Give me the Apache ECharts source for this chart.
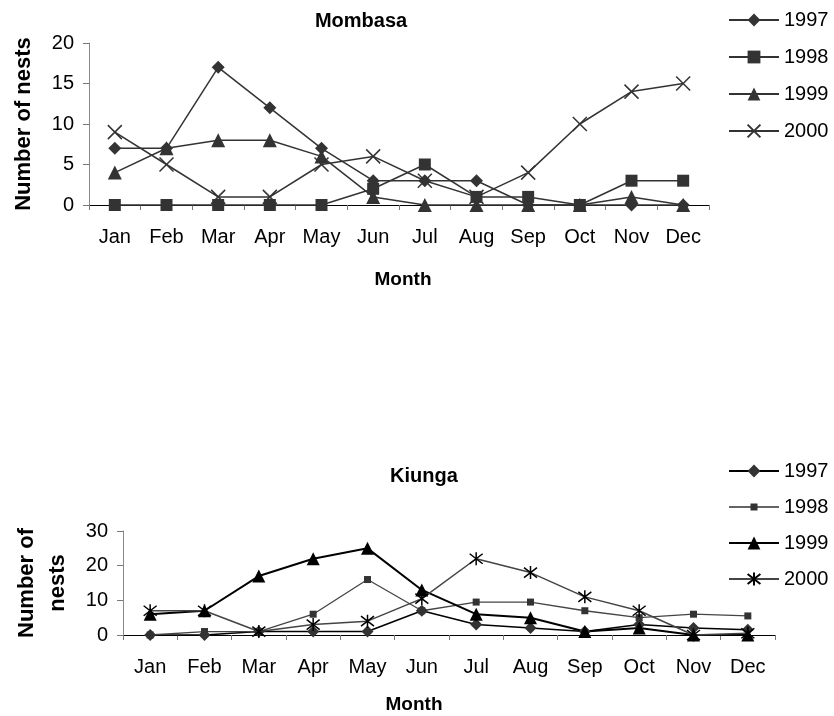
<!DOCTYPE html>
<html>
<head>
<meta charset="utf-8">
<script src="https://cdn.jsdelivr.net/npm/echarts@6/dist/echarts.min.js"></script>
<style>
html,body{margin:0;padding:0;background:#fff;}
#c{width:834px;height:716px;}
</style>
</head>
<body>
<div id="c"></div>
<script>
var months = ['Jan','Feb','Mar','Apr','May','Jun','Jul','Aug','Sep','Oct','Nov','Dec'];
var years = ['1997','1998','1999','2000'];
var mombasaTicks = [0,5,10,15,20];
var kiungaTicks = [0,10,20,30];

var mombasa1997 = [7,7,17,12,7,3,3,3,0,0,0,0];
var mombasa1998 = [0,0,0,0,0,2,5,1,1,0,3,3];
var mombasa1999 = [4,7,8,8,6,1,0,0,0,0,1,0];
var mombasa2000 = [9,5,1,1,5,6,3,1,4,10,14,15];

var kiunga1997 = [0,0,1,1,1,7,3,2,1,3,2,1.5];
var kiunga1998 = [0,1,1,6,16,7,9.5,9.5,7,5,6,5.5];
var kiunga1999 = [6,7,17,22,25,13,6,5,1,2,0,0];
var kiunga2000 = [7,7,1,3,4,10.5,22,18,11,7,0,0.5];

var FONT = 'Liberation Sans, Arial, sans-serif';
var XPATH = 'path://M0,0L10,10M10,0L0,10';
var ASTER = 'path://M0,0L10,10M10,0L0,10M5,-1.5L5,11.5';
var SMALLSQ_LEGEND = 'path://M0,0L0,0M50,16L50,16M0,7.2L50,7.2L50,8.8L0,8.8ZM21.5,4.5L28.5,4.5L28.5,11.5L21.5,11.5Z';
var KP = 'K';

function ser(name, data, gi, lineColor, lineWidth, symbol, symSize, symColor, stroke) {
  var s = {
    name: name, type: 'line', data: data,
    xAxisIndex: gi, yAxisIndex: gi,
    symbol: symbol, symbolSize: symSize,
    showAllSymbol: true, clip: false, animation: false,
    lineStyle: {color: lineColor, width: lineWidth},
    itemStyle: {color: symColor, borderColor: symColor, borderWidth: 0, opacity: 1},
    emphasis: {disabled: true}
  };
  if (stroke) {
    s.itemStyle = {color: 'none', borderColor: symColor, borderWidth: stroke, opacity: 1};
  }
  return s;
}

var chart = echarts.init(document.getElementById('c'));
var axisLabelStyle = {color: '#000', fontSize: 20, fontFamily: FONT};
var legendText = {fontSize: 20, fontFamily: FONT, color: '#000', lineHeight: 22};
chart.setOption({
  backgroundColor: '#fff',
  animation: false,
  title: [
    {text: 'Mombasa', left: 356, top: 16, textAlign: 'center', textVerticalAlign: 'middle',
     textStyle: {fontSize: 20, fontWeight: 'bold', fontFamily: FONT, color: '#000'}},
    {text: 'Kiunga', left: 419, top: 471, textAlign: 'center', textVerticalAlign: 'middle',
     textStyle: {fontSize: 20, fontWeight: 'bold', fontFamily: FONT, color: '#000'}}
  ],
  legend: [
    {orient: 'vertical', left: 723, top: 4, itemWidth: 50, itemHeight: 16, itemGap: 15,
     data: years.slice(),
     textStyle: legendText, selectedMode: false},
    {orient: 'vertical', left: 723, top: 455, itemWidth: 50, itemHeight: 16, itemGap: 14,
     data: years.map(function(y, i){
       var d = {name: KP + y};
       if (i === 1) { d.icon = SMALLSQ_LEGEND; d.itemStyle = {color: '#333'}; }
       return d;
     }),
     formatter: function(n){ return n.replace(KP, ''); },
     textStyle: legendText, selectedMode: false}
  ],
  grid: [
    {left: 89, top: 43, width: 620, height: 162, outerBoundsMode: 'none', containLabel: false},
    {left: 123, top: 531, width: 652, height: 104, outerBoundsMode: 'none', containLabel: false}
  ],
  xAxis: [0,1].map(function(i){
    return {
      type: 'category', gridIndex: i, data: months, boundaryGap: true,
      name: 'Month', nameLocation: 'middle', nameGap: i === 0 ? 65 : 60,
      nameTextStyle: {fontSize: 19, fontWeight: 'bold', fontFamily: FONT, color: '#000',
                      padding: i === 0 ? [0, 0, 0, 8] : [0, 70, 0, 0]},
      axisLine: {lineStyle: {color: '#000', width: 1}},
      axisTick: {show: true, length: 5, lineStyle: {color: '#777'}},
      axisLabel: Object.assign({margin: 22}, axisLabelStyle),
      splitLine: {show: false}
    };
  }),
  yAxis: [
    {type: 'value', gridIndex: 0, min: 0, max: 20, interval: 5,
     name: 'Number of nests', nameLocation: 'middle', nameGap: 54, nameRotate: 90,
     nameTextStyle: {fontSize: 22, fontWeight: 'bold', fontFamily: FONT, color: '#000'},
     axisLine: {show: true, lineStyle: {color: '#888', width: 1}},
     axisTick: {show: true, length: 6, lineStyle: {color: '#777'}},
     axisLabel: Object.assign({margin: 15}, axisLabelStyle),
     splitLine: {show: false}},
    {type: 'value', gridIndex: 1, min: 0, max: 30, interval: 10,
     name: 'Number of\nnests', nameLocation: 'middle', nameGap: 50, nameRotate: 90,
     nameTextStyle: {fontSize: 22, fontWeight: 'bold', fontFamily: FONT, color: '#000', lineHeight: 31},
     axisLine: {show: true, lineStyle: {color: '#888', width: 1}},
     axisTick: {show: true, length: 6, lineStyle: {color: '#777'}},
     axisLabel: Object.assign({margin: 15}, axisLabelStyle),
     splitLine: {show: false}}
  ],
  series: [
    ser('1997', mombasa1997, 0, '#333', 1.5, 'diamond', 13, '#333'),
    ser('1998', mombasa1998, 0, '#333', 1.5, 'rect', 12, '#333'),
    ser('1999', mombasa1999, 0, '#333', 1.5, 'triangle', 14, '#333'),
    ser('2000', mombasa2000, 0, '#333', 1.5, XPATH, 14, '#333', 1.5),
    ser(KP + '1997', kiunga1997, 1, '#000', 1.5, 'diamond', 12, '#333'),
    ser(KP + '1998', kiunga1998, 1, '#444', 1.3, 'rect', 7, '#333'),
    ser(KP + '1999', kiunga1999, 1, '#000', 2, 'triangle', 13, '#000'),
    ser(KP + '2000', kiunga2000, 1, '#444', 1.5, ASTER, 13, '#000', 1.5)
  ]
});
</script>
</body>
</html>
